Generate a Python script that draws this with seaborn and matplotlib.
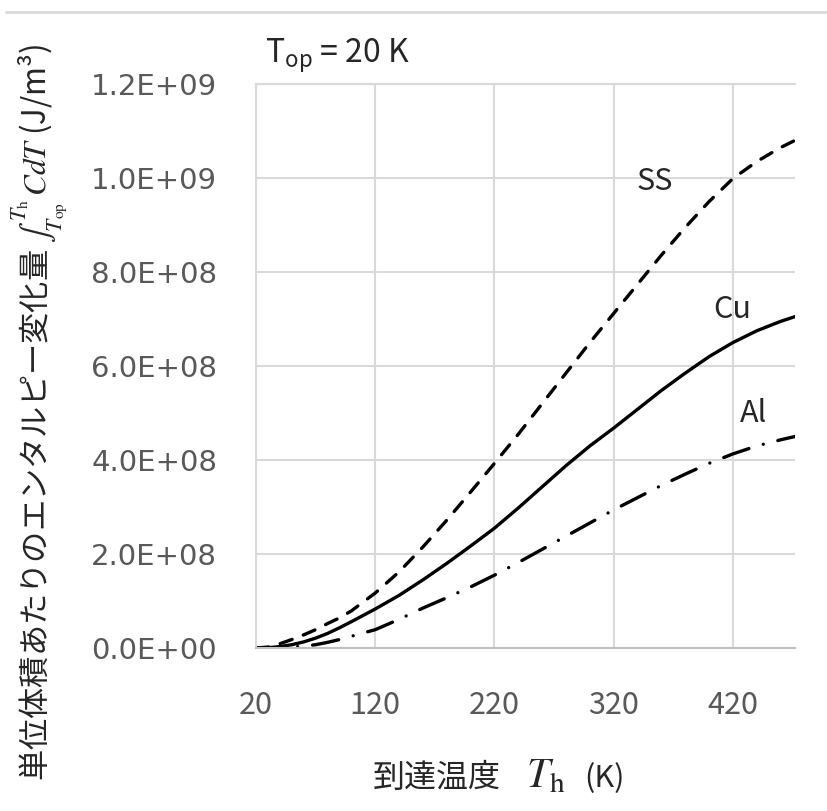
import matplotlib as mpl

mpl.use('Agg')
import matplotlib.pyplot as plt
import matplotlib.ticker as mticker
from matplotlib.lines import Line2D
import seaborn as sns
import pandas as pd

# values (enthalpy change in units of 1E+08 J/m3)
temps = [20, 30, 40, 50, 60, 70, 80, 90, 100, 120, 140, 160, 180, 200,
         220, 240, 260, 280, 300, 320, 340, 360, 380, 400, 420, 440, 460, 472]
ss = [0, 0.02, 0.09, 0.18, 0.28, 0.39, 0.52, 0.64, 0.79, 1.17, 1.62, 2.15,
      2.72, 3.32, 3.93, 4.55, 5.2, 5.85, 6.5, 7.12, 7.74, 8.36, 8.95, 9.5,
      9.99, 10.35, 10.65, 10.8]
cu = [0, 0.005, 0.03, 0.07, 0.13, 0.21, 0.31, 0.43, 0.56, 0.83, 1.12, 1.45,
      1.8, 2.17, 2.55, 2.98, 3.43, 3.88, 4.3, 4.68, 5.08, 5.48, 5.85, 6.2,
      6.5, 6.75, 6.95, 7.05]
al = [0, 0, 0.005, 0.02, 0.04, 0.07, 0.12, 0.18, 0.25, 0.39, 0.61, 0.85,
      1.07, 1.3, 1.55, 1.82, 2.1, 2.38, 2.66, 2.94, 3.2, 3.46, 3.7, 3.93,
      4.13, 4.3, 4.43, 4.5]
materials = ['SS', 'Cu', 'Al']
x_ticks = [20, 120, 220, 320, 420]
y_ticks = [0, 2e8, 4e8, 6e8, 8e8, 1e9, 1.2e9]

sns.set_style('white')
plt.rcParams['font.family'] = ['Noto Sans CJK JP', 'DejaVu Sans']
plt.rcParams['mathtext.fontset'] = 'stix'

df = pd.concat([
    pd.DataFrame({'T': temps, 'H': [v * 1e8 for v in vals], 'material': name})
    for name, vals in zip(materials, [ss, cu, al])
])

fig = plt.figure(figsize=(8.28, 8.11), dpi=100)
ax = fig.add_axes([256 / 828, 1 - 648 / 811, 539 / 828, 564 / 811])

sns.lineplot(data=df, x='T', y='H', style='material', color='black',
             dashes={'SS': (3.8, 3.6), 'Cu': '', 'Al': (8, 4.5, 0.01, 4.5)},
             linewidth=2.4, dash_capstyle='round', legend=False, ax=ax,
             sort=False)

ax.set_xlim(20, 472)
ax.set_ylim(0, 1.2e9)
ax.set_xticks(x_ticks)
ax.set_yticks(y_ticks)
ax.yaxis.set_major_formatter(mticker.FuncFormatter(lambda v, p: f'{v:.1E}'))
ax.grid(True, color='#d9d9d9', lw=1.5)
ax.set_axisbelow(True)
for side in ['top', 'left']:
    ax.spines[side].set_color('#d9d9d9')
    ax.spines[side].set_linewidth(1.5)
ax.spines['right'].set_visible(False)
ax.spines['bottom'].set_color('#bfbfbf')
ax.spines['bottom'].set_linewidth(1.5)
ax.tick_params(axis='both', length=0, colors='#595959')
ax.tick_params(axis='x', pad=30, labelsize=22)
ax.tick_params(axis='y', pad=28)
for lab in ax.get_yticklabels():
    lab.set_family('DejaVu Sans')
    lab.set_fontsize(21)
ax.set_xlabel('')
ax.set_ylabel('')

# curve labels
for name, px, py in [('SS', 655, 182), ('Cu', 732, 310), ('Al', 754, 413)]:
    fig.text(px / 828, 1 - py / 811, name, fontsize=22,
             ha='center', va='center')

fig.text(265 / 828, 1 - 63 / 811, r'T$\mathregular{_{op}}$ = 20 K',
         fontsize=23, ha='left', va='baseline')

# x axis title
fig.text(373 / 828, 1 - 787 / 811, '到達温度', fontsize=23,
         ha='left', va='baseline')
fig.text(526 / 828, 1 - 787 / 811, r'$T_{\mathrm{h}}$', fontsize=30,
         ha='left', va='baseline')
fig.text(584 / 828, 1 - 787 / 811, '(K)', fontsize=22,
         ha='left', va='baseline')

# y axis title
fig.text(40 / 828, 1 - 412 / 811,
         '単位体積あたりのエンタルピー変化量 '
         r'$\int_{T_{\mathrm{op}}}^{T_{\mathrm{h}}}\,CdT$ (J/m³)',
         fontsize=22.5, rotation=90, ha='center', va='center')

fig.add_artist(Line2D([6 / 828, 1], [1 - 12 / 811, 1 - 12 / 811],
                      color='#d9d9d9', lw=2))

fig.savefig('out.png', dpi=100)
